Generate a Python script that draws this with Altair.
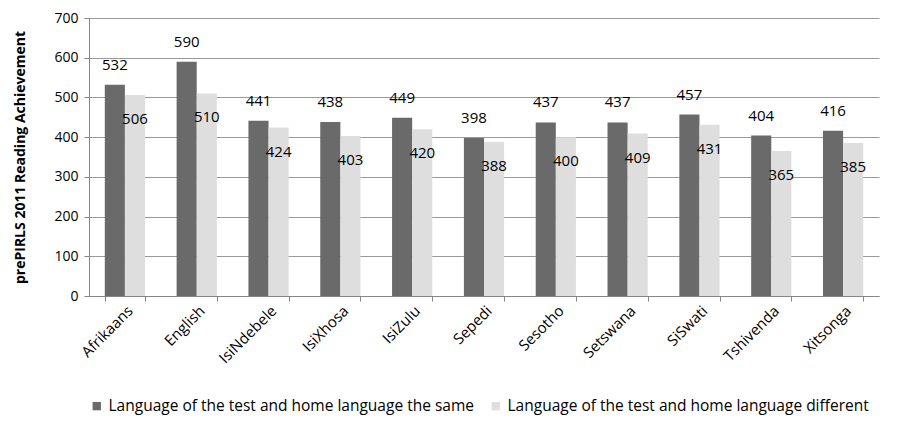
import altair as alt
import pandas as pd

languages = ["Afrikaans", "English", "IsiNdebele", "IsiXhosa", "IsiZulu", "Sepedi",
             "Sesotho", "Setswana", "SiSwati", "Tshivenda", "Xitsonga"]
same = [532, 590, 441, 438, 449, 398, 437, 437, 457, 404, 416]
different = [506, 510, 424, 403, 420, 388, 400, 409, 431, 365, 385]
series = ["Language of the test and home language the same",
          "Language of the test and home language different"]

rows = []
for lang, s, d in zip(languages, same, different):
    rows.append({"lang": lang, "series": series[0], "value": s, "order": 0})
    rows.append({"lang": lang, "series": series[1], "value": d, "order": 1})
df = pd.DataFrame(rows)

FONT = "Open Sans"

x = alt.X("lang:N", sort=languages, title=None,
          scale=alt.Scale(paddingInner=0.44, paddingOuter=0.22),
          axis=alt.Axis(labelAngle=-45, labelAlign="right", labelBaseline="top",
                        labelFontSize=15, labelColor="#000", labelFont=FONT,
                        tickBand="extent", tickSize=5, tickColor="#868686",
                        domainColor="#868686", labelPadding=2))
xo = alt.XOffset("series:N", sort=series)
y = alt.Y("value:Q", title="prePIRLS 2011 Reading Achievement",
          scale=alt.Scale(domain=[0, 700]),
          axis=alt.Axis(values=list(range(0, 701, 100)), labelFontSize=14,
                        labelColor="#000", labelFont=FONT, titleFont=FONT,
                        titleFontSize=14, titleFontWeight="bold", titleColor="#000",
                        tickSize=5, tickColor="#868686", domainColor="#868686",
                        gridColor="#9a9a9a", titlePadding=26, labelPadding=6))

bars = alt.Chart(df).mark_bar(stroke=None).encode(
    x=x, xOffset=xo, y=y,
    color=alt.Color("series:N", sort=series,
                    scale=alt.Scale(domain=series, range=["#6a6a6a", "#dedede"]),
                    legend=alt.Legend(orient="bottom", title=None, labelFontSize=15.5,
                                      labelFont=FONT, labelColor="#000",
                                      symbolType="square", symbolSize=70,
                                      labelLimit=600, columnPadding=14, offset=32)),
)

lab_same = alt.Chart(df[df.order == 0]).mark_text(
    baseline="bottom", dy=-12, fontSize=15, font=FONT, color="#000").encode(
    x=x, xOffset=xo, y=y, text="value:Q")
lab_diff = alt.Chart(df[df.order == 1]).mark_text(
    baseline="middle", dy=24, fontSize=15, font=FONT, color="#000").encode(
    x=x, xOffset=alt.XOffset("series:N", sort=series, scale=alt.Scale(domain=series)),
    y=y, text="value:Q")

chart = alt.layer(bars, lab_same, lab_diff).properties(
    width=790, height=278,
    padding={"left": 5, "top": 3, "right": 5, "bottom": 0}
).configure_view(stroke=None)

chart.save("out.html", embed_options={"renderer": "svg", "actions": False})
